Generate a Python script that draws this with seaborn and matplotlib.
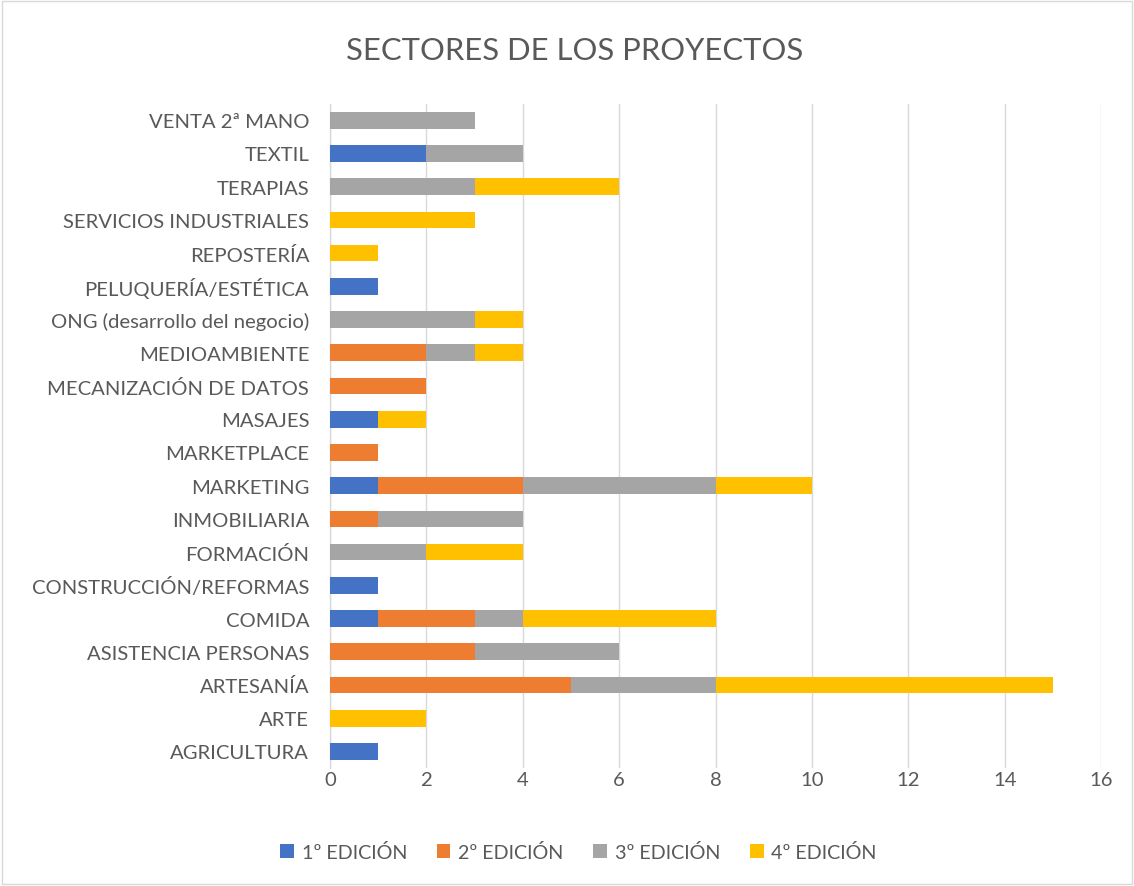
import matplotlib
matplotlib.use("Agg")
import matplotlib.pyplot as plt
import seaborn as sns
import pandas as pd
import numpy as np
from matplotlib.patches import Patch, Rectangle

categories = ["AGRICULTURA", "ARTE", "ARTESANÍA", "ASISTENCIA PERSONAS", "COMIDA",
              "CONSTRUCCIÓN/REFORMAS", "FORMACIÓN", "INMOBILIARIA", "MARKETING",
              "MARKETPLACE", "MASAJES", "MECANIZACIÓN DE DATOS", "MEDIOAMBIENTE",
              "ONG (desarrollo del negocio)", "PELUQUERÍA/ESTÉTICA", "REPOSTERÍA",
              "SERVICIOS INDUSTRIALES", "TERAPIAS", "TEXTIL", "VENTA 2ª MANO"]
ed1 = [1, 0, 0, 0, 1, 1, 0, 0, 1, 0, 1, 0, 0, 0, 1, 0, 0, 0, 2, 0]
ed2 = [0, 0, 5, 3, 2, 0, 0, 1, 3, 1, 0, 2, 2, 0, 0, 0, 0, 0, 0, 0]
ed3 = [0, 0, 3, 3, 1, 0, 2, 3, 4, 0, 0, 0, 1, 3, 0, 0, 0, 3, 2, 3]
ed4 = [0, 2, 7, 0, 4, 0, 2, 0, 2, 0, 1, 0, 1, 1, 0, 1, 3, 3, 0, 0]
series_names = ["1º EDICIÓN", "2º EDICIÓN", "3º EDICIÓN", "4º EDICIÓN"]
colors = ["#4472C4", "#ED7D31", "#A5A5A5", "#FFC000"]

sns.set_style("white")
plt.rcParams['font.family'] = ['Lato', 'DejaVu Sans']

order = categories[::-1]
df = pd.DataFrame({"cat": categories, "e1": ed1, "e2": ed2, "e3": ed3, "e4": ed4})
df["c1"] = df["e1"]
df["c2"] = df["c1"] + df["e2"]
df["c3"] = df["c2"] + df["e3"]
df["c4"] = df["c3"] + df["e4"]

fig = plt.figure(figsize=(11.34, 8.87), dpi=100)
ax = fig.add_axes([0.291, 0.133, 0.680, 0.749])

for col, c in zip(["c4", "c3", "c2", "c1"], colors[::-1]):
    sns.barplot(data=df, x=col, y="cat", order=order, color=c, orient="h",
                width=0.5, ax=ax, saturation=1, linewidth=0, zorder=3)

ax.set_xlim(0, 16)
ax.set_xticks(range(0, 17, 2))
ax.xaxis.grid(True, color="#D9D9D9", linewidth=1, zorder=0)
ax.set_axisbelow(True)
for s in ["top", "right", "bottom"]:
    ax.spines[s].set_visible(False)
ax.spines["left"].set_color("#D9D9D9")
ax.spines["left"].set_linewidth(1)
ax.set_xlabel("")
ax.set_ylabel("")
ax.tick_params(axis="y", length=0, labelsize=14.6, colors="#595959", pad=15)
ax.tick_params(axis="x", length=0, labelsize=14.6, colors="#595959", pad=2)

fig.text(0.507, 0.943, "SECTORES DE LOS PROYECTOS", ha="center", va="center",
         fontsize=22.3, color="#595959")

handles = [Patch(facecolor=c, edgecolor="none") for c in colors]
fig.legend(handles, series_names, loc="center", bbox_to_anchor=(0.51, 0.038),
           ncol=4, frameon=False, fontsize=14.2, labelcolor="#595959",
           handlelength=0.7, handleheight=0.7, columnspacing=1.5, handletextpad=0.4)

fig.patches.append(Rectangle((0.002, 0.002), 0.996, 0.996, transform=fig.transFigure,
                             fill=False, edgecolor="#D9D9D9", linewidth=1))

fig.savefig("out.png", dpi=100, facecolor="white")
